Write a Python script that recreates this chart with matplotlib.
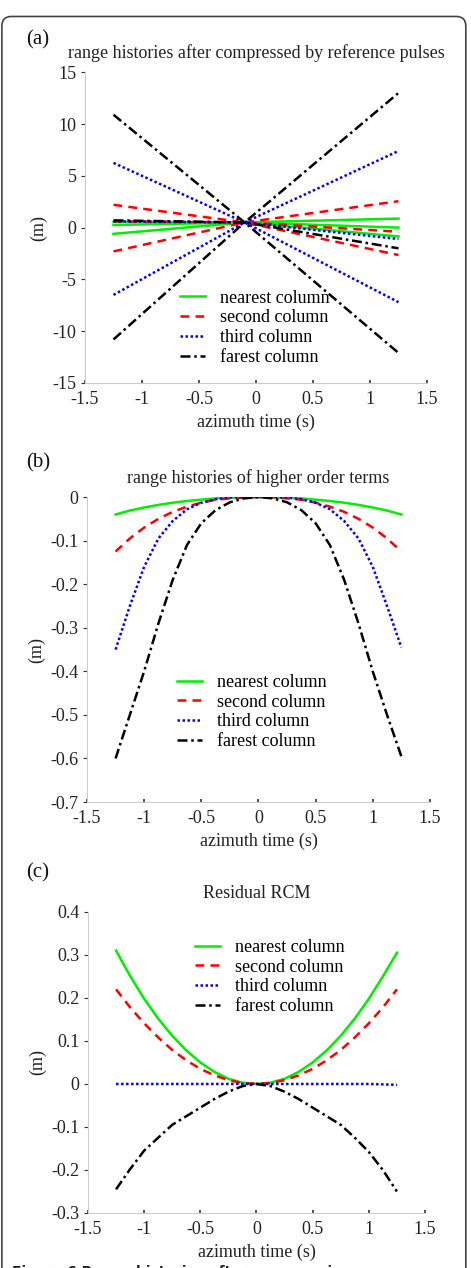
import numpy as np
import matplotlib.pyplot as plt
from matplotlib.patches import FancyBboxPatch

plt.rcParams['font.family'] = ['Liberation Serif', 'DejaVu Serif']

labels = ["nearest column", "second column", "third column", "farest column"]
colors = ["#00ee00", "#ff0000", "#0000ff", "#000000"]
styles = ["-", (0, (3.5, 2.5)), (0, (1, 1)), (0, (4, 1.5, 1, 1.5))]

# panel (a): three lines per column (rising, falling, near flat)
t_a = [-1.25, -0.1, 1.25]
a_rise = [[-0.6, 0.5, 0.87], [-2.3, 0.5, 2.55], [-6.5, 0.5, 7.4], [-10.8, 0.5, 13.0]]
a_fall = [[0.55, 0.5, -0.85], [2.2, 0.5, -2.65], [6.25, 0.5, -7.2], [10.9, 0.5, -12.1]]
a_flat = [[0.25, 0.5, 0.0], [0.6, 0.5, -0.4], [0.6, 0.5, -1.1], [0.7, 0.5, -2.0]]

# panels (b) and (c) share the azimuth time samples
t_bc = [-1.25, -1.125, -1.0, -0.875, -0.75, -0.625, -0.5, -0.375, -0.25, -0.125, 0,
        0.125, 0.25, 0.375, 0.5, 0.625, 0.75, 0.875, 1.0, 1.125, 1.25]

# panel (b): higher order terms
b_near = [-0.04, -0.031, -0.024, -0.018, -0.013, -0.009, -0.006, -0.003, -0.0015, -0.0005, 0,
          -0.0005, -0.0015, -0.003, -0.006, -0.009, -0.013, -0.018, -0.024, -0.031, -0.04]
b_second = [-0.125, -0.095, -0.07, -0.05, -0.034, -0.022, -0.013, -0.006, -0.003, -0.001, 0,
            -0.001, -0.003, -0.006, -0.013, -0.022, -0.034, -0.05, -0.07, -0.095, -0.125]
b_third = [-0.35, -0.25, -0.16, -0.095, -0.055, -0.028, -0.013, -0.005, -0.001, 0, 0,
           0, -0.001, -0.005, -0.013, -0.028, -0.055, -0.095, -0.16, -0.25, -0.345]
b_far = [-0.60, -0.50, -0.40, -0.29, -0.19, -0.11, -0.06, -0.03, -0.012, -0.003, 0,
         -0.003, -0.012, -0.03, -0.06, -0.11, -0.19, -0.29, -0.40, -0.50, -0.595]

# panel (c): residual RCM
c_near = [0.31, 0.251, 0.198, 0.152, 0.112, 0.078, 0.05, 0.028, 0.012, 0.003, 0,
          0.003, 0.012, 0.028, 0.05, 0.078, 0.112, 0.152, 0.198, 0.25, 0.305]
c_second = [0.22, 0.178, 0.141, 0.108, 0.079, 0.055, 0.035, 0.02, 0.009, 0.002, 0,
            0.002, 0.009, 0.02, 0.035, 0.055, 0.079, 0.108, 0.141, 0.178, 0.22]
c_third = [0, 0, 0, 0, 0, 0, 0, 0, 0, 0, 0,
           0, 0, 0, 0, 0, 0, 0, 0, -0.001, -0.002]
c_far = [-0.245, -0.198, -0.155, -0.125, -0.095, -0.075, -0.055, -0.035, -0.018, -0.005, 0,
         -0.005, -0.018, -0.035, -0.055, -0.075, -0.095, -0.125, -0.158, -0.2, -0.25]

fig = plt.figure(figsize=(4.71, 12.68), dpi=100)

# rounded frame around the figure
frame = FancyBboxPatch((0.004, -0.05), 0.985, 1.037, boxstyle="round,pad=0,rounding_size=0.02",
                       transform=fig.transFigure, facecolor="none", edgecolor="#444444", lw=1.2,
                       mutation_aspect=471 / 1268)
fig.patches.append(frame)

ax_a = fig.add_axes([0.1805, 0.698, 0.726, 0.245])
ax_b = fig.add_axes([0.1847, 0.3675, 0.728, 0.2405])
ax_c = fig.add_axes([0.1868, 0.0434, 0.7155, 0.2374])


def style_axes(ax, ylim, yticks, title, letter, letter_y, leg_xy):
    ax.set_xlim(-1.5, 1.5)
    ax.set_ylim(*ylim)
    ax.set_xticks([-1.5, -1, -0.5, 0, 0.5, 1, 1.5])
    ax.set_xticklabels(["-1.5", "-1", "-0.5", "0", "0.5", "1", "1.5"])
    ax.set_yticks(yticks)
    ax.set_yticklabels([f"{v:g}" for v in yticks])
    for s in ["top", "right"]:
        ax.spines[s].set_visible(False)
    for s in ["left", "bottom"]:
        ax.spines[s].set_color("#cccccc")
        ax.spines[s].set_linewidth(0.8)
    ax.tick_params(axis="x", direction="in", length=2, width=1.2, color="#333333",
                   labelsize=13, labelcolor="#222222", pad=6)
    ax.tick_params(axis="y", direction="out", length=3, width=0.8, color="#333333",
                   labelsize=13, labelcolor="#222222", pad=3)
    ax.set_xlabel("azimuth time (s)", fontsize=13, color="#222222", labelpad=4)
    ax.set_ylabel("(m)", fontsize=13, color="#222222", labelpad=4)
    ax.set_title(title, fontsize=13, color="#222222", pad=10)
    fig.text(26 / 471, 1 - letter_y / 1268, letter, fontsize=15, color="#111111", va="center")
    ax.legend(loc="upper left", bbox_to_anchor=leg_xy, frameon=False, fontsize=13,
              handlelength=1.4, handletextpad=0.8, labelspacing=0.15, borderpad=0, borderaxespad=0)


for i in range(4):
    ax_a.plot(t_a, a_rise[i], color=colors[i], ls=styles[i], lw=1.8, label=labels[i])
    ax_a.plot(t_a, a_fall[i], color=colors[i], ls=styles[i], lw=1.8)
    ax_a.plot(t_a, a_flat[i], color=colors[i], ls=styles[i], lw=1.8)
style_axes(ax_a, (-15, 15), [-15, -10, -5, 0, 5, 10, 15],
           "range histories after compressed by reference pulses", "(a)", 40, (0.278, 0.30))

for ys, c, s, lab in zip([b_near, b_second, b_third, b_far], colors, styles, labels):
    ax_b.plot(t_bc, ys, color=c, ls=s, lw=1.8, label=lab)
style_axes(ax_b, (-0.7, 0), [-0.7, -0.6, -0.5, -0.4, -0.3, -0.2, -0.1, 0],
           "range histories of higher order terms", "(b)", 463, (0.262, 0.42))

for ys, c, s, lab in zip([c_near, c_second, c_third, c_far], colors, styles, labels):
    ax_c.plot(t_bc, ys, color=c, ls=s, lw=1.8, label=lab)
style_axes(ax_c, (-0.3, 0.4), [-0.3, -0.2, -0.1, 0, 0.1, 0.2, 0.3, 0.4],
           "Residual RCM", "(c)", 873, (0.318, 0.91))

# caption, cut by the lower edge as in the source page
fig.text(0.026, 0.0025, "Figure 6 Range histories after compression",
         fontsize=10, fontweight="bold", family="DejaVu Sans", color="#222222", va="top")

fig.savefig("out.png", dpi=100)
